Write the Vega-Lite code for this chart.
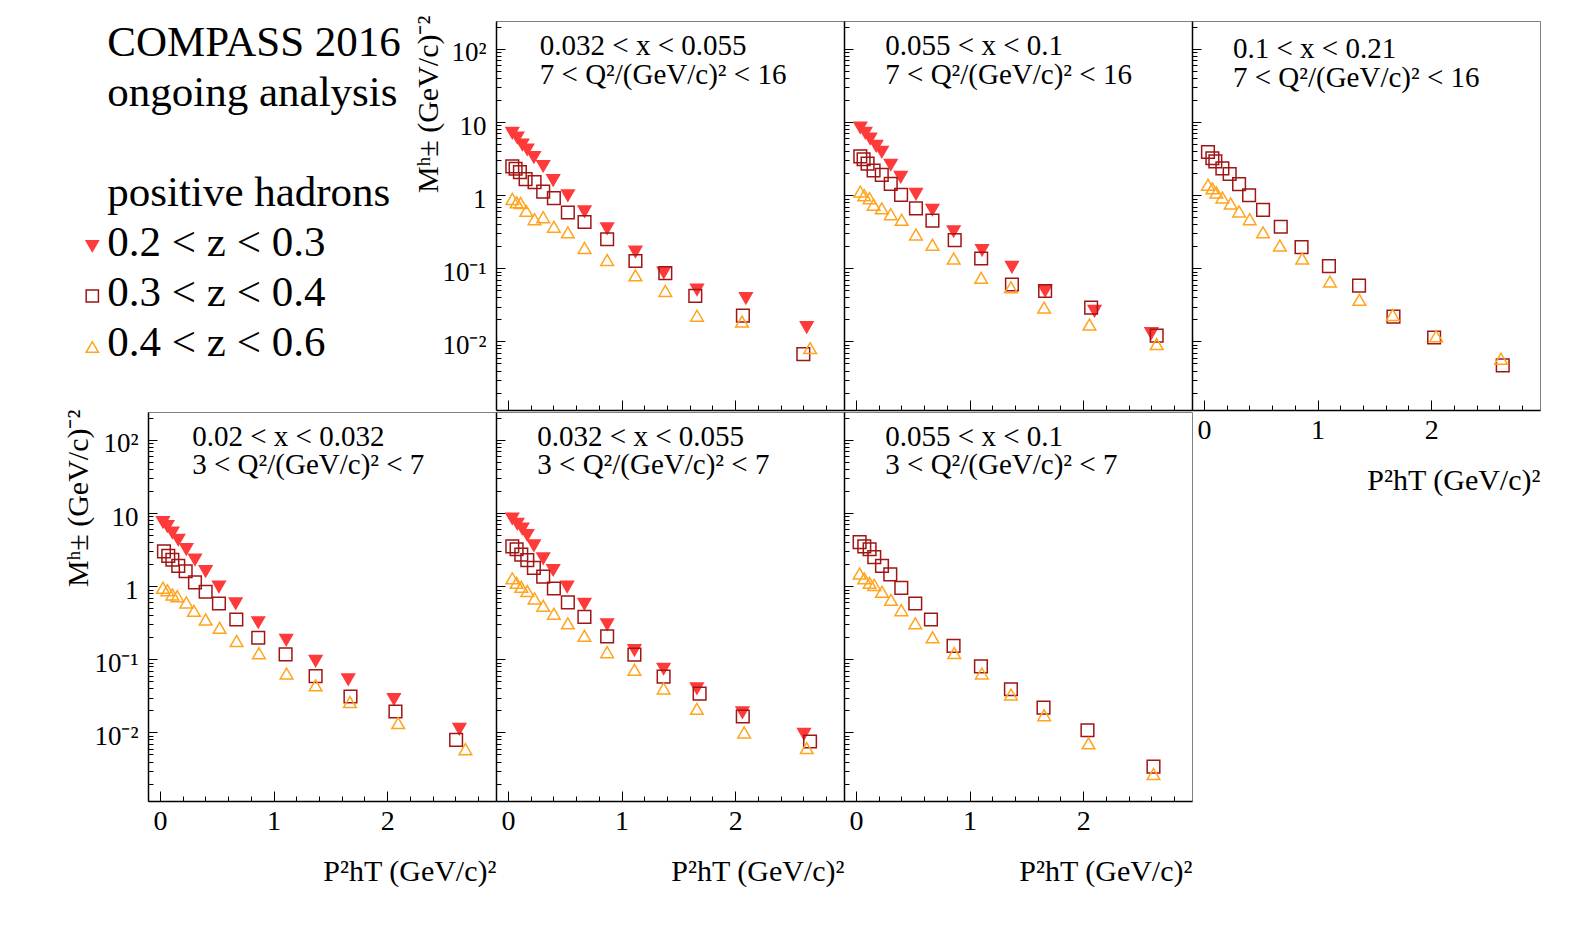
{
"$schema": "https://vega.github.io/schema/vega-lite/v6.json",
"background": "white",
"padding": {"left": 62, "top": 14, "right": 0, "bottom": 0},
"columns": 4,
"spacing": {"row": 2, "column": 0},
"bounds": "flush",
"datasets": {
"leg": [
{"c":1,"r":1,"t":"COMPASS 2016"},{"c":1,"r":2,"t":"ongoing analysis"},{"c":1,"r":4,"t":"positive hadrons"},
{"c":1,"r":5,"t":"0.2 < z < 0.3"},{"c":1,"r":6,"t":"0.3 < z < 0.4"},{"c":1,"r":7,"t":"0.4 < z < 0.6"}],
"legsym": [{"c":0,"r":4.8,"s":"z1"},{"c":0,"r":5.8,"s":"z2"},{"c":0,"r":6.82,"s":"z3"}],
"labs": [
{"p":"A","lx":0.28,"ly":81.5,"t":"0.032 < x < 0.055\n7 < Q²/(GeV/c)² < 16"},
{"p":"B","lx":0.258,"ly":81.5,"t":"0.055 < x < 0.1\n7 < Q²/(GeV/c)² < 16"},
{"p":"C","lx":0.255,"ly":75,"t":"0.1 < x < 0.21\n7 < Q²/(GeV/c)² < 16"},
{"p":"D","lx":0.284,"ly":82.8,"t":"0.02 < x < 0.032\n3 < Q²/(GeV/c)² < 7"},
{"p":"E","lx":0.258,"ly":82.8,"t":"0.032 < x < 0.055\n3 < Q²/(GeV/c)² < 7"},
{"p":"F","lx":0.258,"ly":82.8,"t":"0.055 < x < 0.1\n3 < Q²/(GeV/c)² < 7"}],
"pts": [
{"p":"A","s":"z1","pt2":0.038,"M":7.1},{"p":"A","s":"z1","pt2":0.082,"M":6.1},{"p":"A","s":"z1","pt2":0.126,"M":4.9},{"p":"A","s":"z1","pt2":0.170,"M":4.2},{"p":"A","s":"z1","pt2":0.228,"M":3.3},{"p":"A","s":"z1","pt2":0.310,"M":2.5},{"p":"A","s":"z1","pt2":0.398,"M":1.6},{"p":"A","s":"z1","pt2":0.527,"M":0.99},{"p":"A","s":"z1","pt2":0.674,"M":0.60},{"p":"A","s":"z1","pt2":0.873,"M":0.35},{"p":"A","s":"z1","pt2":1.122,"M":0.168},{"p":"A","s":"z1","pt2":1.371,"M":0.087},{"p":"A","s":"z1","pt2":1.664,"M":0.051},{"p":"A","s":"z1","pt2":2.094,"M":0.039},{"p":"A","s":"z1","pt2":2.63,"M":0.0156},
{"p":"A","s":"z2","pt2":0.038,"M":2.48},{"p":"A","s":"z2","pt2":0.067,"M":2.30},{"p":"A","s":"z2","pt2":0.105,"M":2.07},{"p":"A","s":"z2","pt2":0.155,"M":1.66},{"p":"A","s":"z2","pt2":0.234,"M":1.51},{"p":"A","s":"z2","pt2":0.310,"M":1.12},{"p":"A","s":"z2","pt2":0.404,"M":0.91},{"p":"A","s":"z2","pt2":0.527,"M":0.58},{"p":"A","s":"z2","pt2":0.674,"M":0.43},{"p":"A","s":"z2","pt2":0.873,"M":0.25},{"p":"A","s":"z2","pt2":1.122,"M":0.126},{"p":"A","s":"z2","pt2":1.385,"M":0.086},{"p":"A","s":"z2","pt2":1.649,"M":0.042},{"p":"A","s":"z2","pt2":2.068,"M":0.0225},{"p":"A","s":"z2","pt2":2.60,"M":0.0067},
{"p":"A","s":"z3","pt2":0.038,"M":0.89},{"p":"A","s":"z3","pt2":0.076,"M":0.80},{"p":"A","s":"z3","pt2":0.111,"M":0.78},{"p":"A","s":"z3","pt2":0.161,"M":0.61},{"p":"A","s":"z3","pt2":0.234,"M":0.47},{"p":"A","s":"z3","pt2":0.310,"M":0.50},{"p":"A","s":"z3","pt2":0.404,"M":0.37},{"p":"A","s":"z3","pt2":0.527,"M":0.31},{"p":"A","s":"z3","pt2":0.674,"M":0.19},{"p":"A","s":"z3","pt2":0.873,"M":0.13},{"p":"A","s":"z3","pt2":1.122,"M":0.080},{"p":"A","s":"z3","pt2":1.385,"M":0.049},{"p":"A","s":"z3","pt2":1.664,"M":0.0225},{"p":"A","s":"z3","pt2":2.06,"M":0.0187},{"p":"A","s":"z3","pt2":2.66,"M":0.0081},
{"p":"B","s":"z1","pt2":0.038,"M":8.4},{"p":"B","s":"z1","pt2":0.082,"M":7.1},{"p":"B","s":"z1","pt2":0.125,"M":5.9},{"p":"B","s":"z1","pt2":0.178,"M":4.7},{"p":"B","s":"z1","pt2":0.227,"M":3.9},{"p":"B","s":"z1","pt2":0.306,"M":2.6},{"p":"B","s":"z1","pt2":0.394,"M":1.77},{"p":"B","s":"z1","pt2":0.528,"M":1.04},{"p":"B","s":"z1","pt2":0.673,"M":0.63},{"p":"B","s":"z1","pt2":0.86,"M":0.32},{"p":"B","s":"z1","pt2":1.11,"M":0.177},{"p":"B","s":"z1","pt2":1.373,"M":0.104},{"p":"B","s":"z1","pt2":1.665,"M":0.049},{"p":"B","s":"z1","pt2":2.10,"M":0.026},{"p":"B","s":"z1","pt2":2.60,"M":0.0129},
{"p":"B","s":"z2","pt2":0.038,"M":3.4},{"p":"B","s":"z2","pt2":0.067,"M":3.1},{"p":"B","s":"z2","pt2":0.102,"M":2.7},{"p":"B","s":"z2","pt2":0.155,"M":2.18},{"p":"B","s":"z2","pt2":0.227,"M":1.90},{"p":"B","s":"z2","pt2":0.306,"M":1.43},{"p":"B","s":"z2","pt2":0.397,"M":1.01},{"p":"B","s":"z2","pt2":0.528,"M":0.66},{"p":"B","s":"z2","pt2":0.673,"M":0.45},{"p":"B","s":"z2","pt2":0.869,"M":0.243},{"p":"B","s":"z2","pt2":1.102,"M":0.136},{"p":"B","s":"z2","pt2":1.373,"M":0.060},{"p":"B","s":"z2","pt2":1.665,"M":0.049},{"p":"B","s":"z2","pt2":2.07,"M":0.029},{"p":"B","s":"z2","pt2":2.647,"M":0.012},
{"p":"B","s":"z3","pt2":0.038,"M":1.12},{"p":"B","s":"z3","pt2":0.073,"M":1.0},{"p":"B","s":"z3","pt2":0.12,"M":0.91},{"p":"B","s":"z3","pt2":0.155,"M":0.74},{"p":"B","s":"z3","pt2":0.227,"M":0.66},{"p":"B","s":"z3","pt2":0.306,"M":0.55},{"p":"B","s":"z3","pt2":0.402,"M":0.46},{"p":"B","s":"z3","pt2":0.528,"M":0.29},{"p":"B","s":"z3","pt2":0.673,"M":0.21},{"p":"B","s":"z3","pt2":0.86,"M":0.136},{"p":"B","s":"z3","pt2":1.102,"M":0.074},{"p":"B","s":"z3","pt2":1.364,"M":0.055},{"p":"B","s":"z3","pt2":1.656,"M":0.029},{"p":"B","s":"z3","pt2":2.055,"M":0.017},{"p":"B","s":"z3","pt2":2.647,"M":0.0092},
{"p":"C","s":"z2","pt2":0.035,"M":3.9},{"p":"C","s":"z2","pt2":0.074,"M":3.2},{"p":"C","s":"z2","pt2":0.10,"M":2.9},{"p":"C","s":"z2","pt2":0.162,"M":2.33},{"p":"C","s":"z2","pt2":0.226,"M":1.95},{"p":"C","s":"z2","pt2":0.309,"M":1.42},{"p":"C","s":"z2","pt2":0.397,"M":1.0},{"p":"C","s":"z2","pt2":0.52,"M":0.63},{"p":"C","s":"z2","pt2":0.676,"M":0.37},{"p":"C","s":"z2","pt2":0.859,"M":0.195},{"p":"C","s":"z2","pt2":1.10,"M":0.107},{"p":"C","s":"z2","pt2":1.365,"M":0.058},{"p":"C","s":"z2","pt2":1.668,"M":0.0218},{"p":"C","s":"z2","pt2":2.026,"M":0.0113},{"p":"C","s":"z2","pt2":2.63,"M":0.0047},
{"p":"C","s":"z3","pt2":0.035,"M":1.39},{"p":"C","s":"z3","pt2":0.074,"M":1.24},{"p":"C","s":"z3","pt2":0.109,"M":1.09},{"p":"C","s":"z3","pt2":0.162,"M":0.93},{"p":"C","s":"z3","pt2":0.235,"M":0.77},{"p":"C","s":"z3","pt2":0.309,"M":0.60},{"p":"C","s":"z3","pt2":0.403,"M":0.47},{"p":"C","s":"z3","pt2":0.52,"M":0.31},{"p":"C","s":"z3","pt2":0.668,"M":0.205},{"p":"C","s":"z3","pt2":0.865,"M":0.136},{"p":"C","s":"z3","pt2":1.109,"M":0.066},{"p":"C","s":"z3","pt2":1.368,"M":0.037},{"p":"C","s":"z3","pt2":1.662,"M":0.023},{"p":"C","s":"z3","pt2":2.044,"M":0.0118},{"p":"C","s":"z3","pt2":2.615,"M":0.0058},
{"p":"D","s":"z1","pt2":0.026,"M":7.5},{"p":"D","s":"z1","pt2":0.065,"M":6.6},{"p":"D","s":"z1","pt2":0.109,"M":5.4},{"p":"D","s":"z1","pt2":0.161,"M":4.3},{"p":"D","s":"z1","pt2":0.232,"M":3.2},{"p":"D","s":"z1","pt2":0.308,"M":2.3},{"p":"D","s":"z1","pt2":0.402,"M":1.6},{"p":"D","s":"z1","pt2":0.519,"M":0.98},{"p":"D","s":"z1","pt2":0.666,"M":0.58},{"p":"D","s":"z1","pt2":0.865,"M":0.32},{"p":"D","s":"z1","pt2":1.111,"M":0.184},{"p":"D","s":"z1","pt2":1.37,"M":0.095},{"p":"D","s":"z1","pt2":1.657,"M":0.053},{"p":"D","s":"z1","pt2":2.059,"M":0.0285},{"p":"D","s":"z1","pt2":2.636,"M":0.0111},
{"p":"D","s":"z2","pt2":0.035,"M":3.0},{"p":"D","s":"z2","pt2":0.073,"M":2.6},{"p":"D","s":"z2","pt2":0.109,"M":2.3},{"p":"D","s":"z2","pt2":0.161,"M":1.9},{"p":"D","s":"z2","pt2":0.226,"M":1.6},{"p":"D","s":"z2","pt2":0.308,"M":1.13},{"p":"D","s":"z2","pt2":0.402,"M":0.84},{"p":"D","s":"z2","pt2":0.519,"M":0.58},{"p":"D","s":"z2","pt2":0.672,"M":0.35},{"p":"D","s":"z2","pt2":0.865,"M":0.197},{"p":"D","s":"z2","pt2":1.106,"M":0.117},{"p":"D","s":"z2","pt2":1.37,"M":0.059},{"p":"D","s":"z2","pt2":1.677,"M":0.031},{"p":"D","s":"z2","pt2":2.073,"M":0.0193},{"p":"D","s":"z2","pt2":2.607,"M":0.0079},
{"p":"D","s":"z3","pt2":0.026,"M":0.95},{"p":"D","s":"z3","pt2":0.065,"M":0.88},{"p":"D","s":"z3","pt2":0.109,"M":0.77},{"p":"D","s":"z3","pt2":0.152,"M":0.73},{"p":"D","s":"z3","pt2":0.232,"M":0.60},{"p":"D","s":"z3","pt2":0.299,"M":0.46},{"p":"D","s":"z3","pt2":0.402,"M":0.35},{"p":"D","s":"z3","pt2":0.525,"M":0.27},{"p":"D","s":"z3","pt2":0.674,"M":0.178},{"p":"D","s":"z3","pt2":0.871,"M":0.121},{"p":"D","s":"z3","pt2":1.114,"M":0.064},{"p":"D","s":"z3","pt2":1.37,"M":0.044},{"p":"D","s":"z3","pt2":1.672,"M":0.026},{"p":"D","s":"z3","pt2":2.097,"M":0.0134},{"p":"D","s":"z3","pt2":2.689,"M":0.0059},
{"p":"E","s":"z1","pt2":0.038,"M":8.4},{"p":"E","s":"z1","pt2":0.082,"M":7.1},{"p":"E","s":"z1","pt2":0.126,"M":6.1},{"p":"E","s":"z1","pt2":0.17,"M":5.0},{"p":"E","s":"z1","pt2":0.228,"M":3.6},{"p":"E","s":"z1","pt2":0.31,"M":2.4},{"p":"E","s":"z1","pt2":0.398,"M":1.66},{"p":"E","s":"z1","pt2":0.521,"M":0.98},{"p":"E","s":"z1","pt2":0.673,"M":0.57},{"p":"E","s":"z1","pt2":0.873,"M":0.30},{"p":"E","s":"z1","pt2":1.113,"M":0.133},{"p":"E","s":"z1","pt2":1.37,"M":0.074},{"p":"E","s":"z1","pt2":1.663,"M":0.040},{"p":"E","s":"z1","pt2":2.064,"M":0.0187},{"p":"E","s":"z1","pt2":2.606,"M":0.0095},
{"p":"E","s":"z2","pt2":0.038,"M":3.5},{"p":"E","s":"z2","pt2":0.076,"M":3.2},{"p":"E","s":"z2","pt2":0.117,"M":2.7},{"p":"E","s":"z2","pt2":0.17,"M":2.27},{"p":"E","s":"z2","pt2":0.228,"M":1.78},{"p":"E","s":"z2","pt2":0.31,"M":1.35},{"p":"E","s":"z2","pt2":0.404,"M":0.93},{"p":"E","s":"z2","pt2":0.527,"M":0.60},{"p":"E","s":"z2","pt2":0.673,"M":0.38},{"p":"E","s":"z2","pt2":0.873,"M":0.206},{"p":"E","s":"z2","pt2":1.113,"M":0.116},{"p":"E","s":"z2","pt2":1.37,"M":0.058},{"p":"E","s":"z2","pt2":1.687,"M":0.034},{"p":"E","s":"z2","pt2":2.067,"M":0.0165},{"p":"E","s":"z2","pt2":2.659,"M":0.0075},
{"p":"E","s":"z3","pt2":0.038,"M":1.28},{"p":"E","s":"z3","pt2":0.076,"M":1.11},{"p":"E","s":"z3","pt2":0.117,"M":0.98},{"p":"E","s":"z3","pt2":0.17,"M":0.86},{"p":"E","s":"z3","pt2":0.234,"M":0.68},{"p":"E","s":"z3","pt2":0.31,"M":0.54},{"p":"E","s":"z3","pt2":0.404,"M":0.42},{"p":"E","s":"z3","pt2":0.527,"M":0.31},{"p":"E","s":"z3","pt2":0.673,"M":0.21},{"p":"E","s":"z3","pt2":0.873,"M":0.125},{"p":"E","s":"z3","pt2":1.113,"M":0.072},{"p":"E","s":"z3","pt2":1.37,"M":0.040},{"p":"E","s":"z3","pt2":1.663,"M":0.021},{"p":"E","s":"z3","pt2":2.079,"M":0.0100},{"p":"E","s":"z3","pt2":2.63,"M":0.0061},
{"p":"F","s":"z2","pt2":0.032,"M":4.0},{"p":"F","s":"z2","pt2":0.073,"M":3.5},{"p":"F","s":"z2","pt2":0.12,"M":3.2},{"p":"F","s":"z2","pt2":0.161,"M":2.5},{"p":"F","s":"z2","pt2":0.229,"M":1.9},{"p":"F","s":"z2","pt2":0.302,"M":1.45},{"p":"F","s":"z2","pt2":0.399,"M":0.95},{"p":"F","s":"z2","pt2":0.522,"M":0.58},{"p":"F","s":"z2","pt2":0.66,"M":0.35},{"p":"F","s":"z2","pt2":0.859,"M":0.153},{"p":"F","s":"z2","pt2":1.10,"M":0.080},{"p":"F","s":"z2","pt2":1.364,"M":0.039},{"p":"F","s":"z2","pt2":1.651,"M":0.0218},{"p":"F","s":"z2","pt2":2.038,"M":0.0107},{"p":"F","s":"z2","pt2":2.619,"M":0.0034},
{"p":"F","s":"z3","pt2":0.032,"M":1.49},{"p":"F","s":"z3","pt2":0.073,"M":1.28},{"p":"F","s":"z3","pt2":0.12,"M":1.11},{"p":"F","s":"z3","pt2":0.161,"M":1.04},{"p":"F","s":"z3","pt2":0.229,"M":0.84},{"p":"F","s":"z3","pt2":0.308,"M":0.65},{"p":"F","s":"z3","pt2":0.399,"M":0.47},{"p":"F","s":"z3","pt2":0.522,"M":0.31},{"p":"F","s":"z3","pt2":0.674,"M":0.20},{"p":"F","s":"z3","pt2":0.865,"M":0.122},{"p":"F","s":"z3","pt2":1.108,"M":0.064},{"p":"F","s":"z3","pt2":1.364,"M":0.033},{"p":"F","s":"z3","pt2":1.657,"M":0.0172},{"p":"F","s":"z3","pt2":2.047,"M":0.0071},{"p":"F","s":"z3","pt2":2.619,"M":0.0027}
]
},
"concat": [
{"width":348,"height":389,"view":{"stroke":null},
 "layer":[
  {"data":{"name":"leg"},"mark":{"type":"text","align":"left","baseline":"alphabetic","fontSize":43,"font":"Liberation Serif","color":"black"},
   "encoding":{"x":{"field":"c","type":"quantitative","scale":{"domain":[3.713,26.913],"nice":false,"zero":false},"axis":null},
     "y":{"field":"r","type":"quantitative","scale":{"domain":[0.3,8.08],"reverse":true,"nice":false,"zero":false},"axis":null},
     "text":{"field":"t","type":"nominal"}}},
  {"data":{"name":"legsym"},"mark":{"type":"point","size":150,"strokeWidth":1.5,"opacity":1},
   "encoding":{"x":{"field":"c","type":"quantitative"},"y":{"field":"r","type":"quantitative"},
     "shape":{"field":"s","type":"nominal","scale":{"domain":["z1","z2","z3"],"range":["triangle-down","square","triangle-up"]},"legend":null},
     "fill":{"field":"s","type":"nominal","scale":{"domain":["z1","z2","z3"],"range":["#ff3a3a","transparent","transparent"]},"legend":null},
     "stroke":{"field":"s","type":"nominal","scale":{"domain":["z1","z2","z3"],"range":["#ff3a3a","#a01515","#ffa41c"]},"legend":null}}}
 ]},
{"width":348,"height":389,
 "layer":[
  {"data":{"name":"pts"},"transform":[{"filter":"datum.p == 'A'"}],"mark":{"type":"point","size":160,"strokeWidth":1.5,"opacity":1},
   "encoding":{
    "x":{"field":"pt2","type":"quantitative","scale":{"domain":[-0.1055,2.958],"nice":false,"zero":false},
      "axis":{"values":[0,0.2,0.4,0.6,0.8,1,1.2,1.4,1.6,1.8,2,2.2,2.4,2.6,2.8],"tickCount":100,"labels":false,"title":null,"labelOverlap":false,
        "tickSize":{"condition":{"test":"datum.value == 0 || datum.value == 1 || datum.value == 2","value":-10},"value":-5}}},
    "y":{"field":"M","type":"quantitative","scale":{"type":"log","domain":[0.001153,241.5],"nice":false},
      "axis":{"values":[0.002,0.003,0.004,0.005,0.006,0.007,0.008,0.009,0.01,0.02,0.03,0.04,0.05,0.06,0.07,0.08,0.09,0.1,0.2,0.3,0.4,0.5,0.6,0.7,0.8,0.9,1,2,3,4,5,6,7,8,9,10,20,30,40,50,60,70,80,90,100,200],"tickCount":100,
        "labelExpr":"datum.value == 100 ? '10²' : datum.value == 10 ? '10' : datum.value == 1 ? '1' : datum.value == 0.1 ? '10⁻¹' : datum.value == 0.01 ? '10⁻²' : ''",
        "tickSize":{"condition":{"test":"datum.value == 0.01 || datum.value == 0.1 || datum.value == 1 || datum.value == 10 || datum.value == 100","value":-9},"value":-5},
        "labelPadding":19,"labelBaseline":"middle","labelOffset":4,"labelOverlap":false,
        "title":"Mʰ± (GeV/c)⁻²","titleFontSize":30,"titleAnchor":"end","titleX":-53,"titleY":-6,"titleBaseline":"bottom","titleAngle":270}},
    "shape":{"field":"s","type":"nominal","scale":{"domain":["z1","z2","z3"],"range":["triangle-down","square","triangle-up"]},"legend":null},
    "fill":{"field":"s","type":"nominal","scale":{"domain":["z1","z2","z3"],"range":["#ff3a3a","transparent","transparent"]},"legend":null},
    "stroke":{"field":"s","type":"nominal","scale":{"domain":["z1","z2","z3"],"range":["#ff3a3a","#a01515","#ffa41c"]},"legend":null}}},
  {"data":{"name":"labs"},"transform":[{"filter":"datum.p == 'A'"}],"mark":{"type":"text","align":"left","baseline":"alphabetic","fontSize":29,"lineHeight":28.5,"lineBreak":"\n","font":"Liberation Serif","color":"black"},
   "encoding":{"x":{"field":"lx","type":"quantitative"},"y":{"field":"ly","type":"quantitative"},"text":{"field":"t","type":"nominal"}}}
 ]},
{"width":348,"height":389,
 "layer":[
  {"data":{"name":"pts"},"transform":[{"filter":"datum.p == 'B'"}],"mark":{"type":"point","size":160,"strokeWidth":1.5,"opacity":1},
   "encoding":{
    "x":{"field":"pt2","type":"quantitative","scale":{"domain":[-0.1055,2.958],"nice":false,"zero":false},
      "axis":{"values":[0,0.2,0.4,0.6,0.8,1,1.2,1.4,1.6,1.8,2,2.2,2.4,2.6,2.8],"tickCount":100,"labels":false,"title":null,"labelOverlap":false,
        "tickSize":{"condition":{"test":"datum.value == 0 || datum.value == 1 || datum.value == 2","value":-10},"value":-5}}},
    "y":{"field":"M","type":"quantitative","scale":{"type":"log","domain":[0.001153,241.5],"nice":false},
      "axis":{"values":[0.002,0.003,0.004,0.005,0.006,0.007,0.008,0.009,0.01,0.02,0.03,0.04,0.05,0.06,0.07,0.08,0.09,0.1,0.2,0.3,0.4,0.5,0.6,0.7,0.8,0.9,1,2,3,4,5,6,7,8,9,10,20,30,40,50,60,70,80,90,100,200],"tickCount":100,
        "labels":false,"title":null,
        "tickSize":{"condition":{"test":"datum.value == 0.01 || datum.value == 0.1 || datum.value == 1 || datum.value == 10 || datum.value == 100","value":-9},"value":-5}}},
    "shape":{"field":"s","type":"nominal","scale":{"domain":["z1","z2","z3"],"range":["triangle-down","square","triangle-up"]},"legend":null},
    "fill":{"field":"s","type":"nominal","scale":{"domain":["z1","z2","z3"],"range":["#ff3a3a","transparent","transparent"]},"legend":null},
    "stroke":{"field":"s","type":"nominal","scale":{"domain":["z1","z2","z3"],"range":["#ff3a3a","#a01515","#ffa41c"]},"legend":null}}},
  {"data":{"name":"labs"},"transform":[{"filter":"datum.p == 'B'"}],"mark":{"type":"text","align":"left","baseline":"alphabetic","fontSize":29,"lineHeight":28.5,"lineBreak":"\n","font":"Liberation Serif","color":"black"},
   "encoding":{"x":{"field":"lx","type":"quantitative"},"y":{"field":"ly","type":"quantitative"},"text":{"field":"t","type":"nominal"}}}
 ]},
{"width":348,"height":389,
 "layer":[
  {"data":{"name":"pts"},"transform":[{"filter":"datum.p == 'C'"}],"mark":{"type":"point","size":160,"strokeWidth":1.5,"opacity":1},
   "encoding":{
    "x":{"field":"pt2","type":"quantitative","scale":{"domain":[-0.1055,2.958],"nice":false,"zero":false},
      "axis":{"values":[0,0.2,0.4,0.6,0.8,1,1.2,1.4,1.6,1.8,2,2.2,2.4,2.6,2.8],"tickCount":100,"labelOverlap":false,"labelFontSize":28,
        "labelExpr":"datum.value == 0 ? '0' : datum.value == 1 ? '1' : datum.value == 2 ? '2' : ''",
        "tickSize":{"condition":{"test":"datum.value == 0 || datum.value == 1 || datum.value == 2","value":-10},"value":-5},
        "labelPadding":16,"title":"P²hT (GeV/c)²","titleFontSize":30,"titleAnchor":"end","titleBaseline":"alphabetic","titleY":79}},
    "y":{"field":"M","type":"quantitative","scale":{"type":"log","domain":[0.001153,241.5],"nice":false},
      "axis":{"values":[0.002,0.003,0.004,0.005,0.006,0.007,0.008,0.009,0.01,0.02,0.03,0.04,0.05,0.06,0.07,0.08,0.09,0.1,0.2,0.3,0.4,0.5,0.6,0.7,0.8,0.9,1,2,3,4,5,6,7,8,9,10,20,30,40,50,60,70,80,90,100,200],"tickCount":100,
        "labels":false,"title":null,
        "tickSize":{"condition":{"test":"datum.value == 0.01 || datum.value == 0.1 || datum.value == 1 || datum.value == 10 || datum.value == 100","value":-9},"value":-5}}},
    "shape":{"field":"s","type":"nominal","scale":{"domain":["z1","z2","z3"],"range":["triangle-down","square","triangle-up"]},"legend":null},
    "fill":{"field":"s","type":"nominal","scale":{"domain":["z1","z2","z3"],"range":["#ff3a3a","transparent","transparent"]},"legend":null},
    "stroke":{"field":"s","type":"nominal","scale":{"domain":["z1","z2","z3"],"range":["#ff3a3a","#a01515","#ffa41c"]},"legend":null}}},
  {"data":{"name":"labs"},"transform":[{"filter":"datum.p == 'C'"}],"mark":{"type":"text","align":"left","baseline":"alphabetic","fontSize":29,"lineHeight":28.5,"lineBreak":"\n","font":"Liberation Serif","color":"black"},
   "encoding":{"x":{"field":"lx","type":"quantitative"},"y":{"field":"ly","type":"quantitative"},"text":{"field":"t","type":"nominal"}}}
 ]},
{"width":348,"height":389,
 "layer":[
  {"data":{"name":"pts"},"transform":[{"filter":"datum.p == 'D'"}],"mark":{"type":"point","size":160,"strokeWidth":1.5,"opacity":1},
   "encoding":{
    "x":{"field":"pt2","type":"quantitative","scale":{"domain":[-0.1055,2.958],"nice":false,"zero":false},
      "axis":{"values":[0,0.2,0.4,0.6,0.8,1,1.2,1.4,1.6,1.8,2,2.2,2.4,2.6,2.8],"tickCount":100,"labelOverlap":false,"labelFontSize":28,
        "labelExpr":"datum.value == 0 ? '0' : datum.value == 1 ? '1' : datum.value == 2 ? '2' : ''",
        "tickSize":{"condition":{"test":"datum.value == 0 || datum.value == 1 || datum.value == 2","value":-10},"value":-5},
        "labelPadding":16,"title":"P²hT (GeV/c)²","titleFontSize":30,"titleAnchor":"end","titleBaseline":"alphabetic","titleY":79}},
    "y":{"field":"M","type":"quantitative","scale":{"type":"log","domain":[0.001153,241.5],"nice":false},
      "axis":{"values":[0.002,0.003,0.004,0.005,0.006,0.007,0.008,0.009,0.01,0.02,0.03,0.04,0.05,0.06,0.07,0.08,0.09,0.1,0.2,0.3,0.4,0.5,0.6,0.7,0.8,0.9,1,2,3,4,5,6,7,8,9,10,20,30,40,50,60,70,80,90,100,200],"tickCount":100,
        "labelExpr":"datum.value == 100 ? '10²' : datum.value == 10 ? '10' : datum.value == 1 ? '1' : datum.value == 0.1 ? '10⁻¹' : datum.value == 0.01 ? '10⁻²' : ''",
        "tickSize":{"condition":{"test":"datum.value == 0.01 || datum.value == 0.1 || datum.value == 1 || datum.value == 10 || datum.value == 100","value":-9},"value":-5},
        "labelPadding":19,"labelBaseline":"middle","labelOffset":4,"labelOverlap":false,
        "title":"Mʰ± (GeV/c)⁻²","titleFontSize":30,"titleAnchor":"end","titleX":-55,"titleY":-3,"titleBaseline":"bottom","titleAngle":270}},
    "shape":{"field":"s","type":"nominal","scale":{"domain":["z1","z2","z3"],"range":["triangle-down","square","triangle-up"]},"legend":null},
    "fill":{"field":"s","type":"nominal","scale":{"domain":["z1","z2","z3"],"range":["#ff3a3a","transparent","transparent"]},"legend":null},
    "stroke":{"field":"s","type":"nominal","scale":{"domain":["z1","z2","z3"],"range":["#ff3a3a","#a01515","#ffa41c"]},"legend":null}}},
  {"data":{"name":"labs"},"transform":[{"filter":"datum.p == 'D'"}],"mark":{"type":"text","align":"left","baseline":"alphabetic","fontSize":29,"lineHeight":28.5,"lineBreak":"\n","font":"Liberation Serif","color":"black"},
   "encoding":{"x":{"field":"lx","type":"quantitative"},"y":{"field":"ly","type":"quantitative"},"text":{"field":"t","type":"nominal"}}}
 ]},
{"width":348,"height":389,
 "layer":[
  {"data":{"name":"pts"},"transform":[{"filter":"datum.p == 'E'"}],"mark":{"type":"point","size":160,"strokeWidth":1.5,"opacity":1},
   "encoding":{
    "x":{"field":"pt2","type":"quantitative","scale":{"domain":[-0.1055,2.958],"nice":false,"zero":false},
      "axis":{"values":[0,0.2,0.4,0.6,0.8,1,1.2,1.4,1.6,1.8,2,2.2,2.4,2.6,2.8],"tickCount":100,"labelOverlap":false,"labelFontSize":28,
        "labelExpr":"datum.value == 0 ? '0' : datum.value == 1 ? '1' : datum.value == 2 ? '2' : ''",
        "tickSize":{"condition":{"test":"datum.value == 0 || datum.value == 1 || datum.value == 2","value":-10},"value":-5},
        "labelPadding":16,"title":"P²hT (GeV/c)²","titleFontSize":30,"titleAnchor":"end","titleBaseline":"alphabetic","titleY":79}},
    "y":{"field":"M","type":"quantitative","scale":{"type":"log","domain":[0.001153,241.5],"nice":false},
      "axis":{"values":[0.002,0.003,0.004,0.005,0.006,0.007,0.008,0.009,0.01,0.02,0.03,0.04,0.05,0.06,0.07,0.08,0.09,0.1,0.2,0.3,0.4,0.5,0.6,0.7,0.8,0.9,1,2,3,4,5,6,7,8,9,10,20,30,40,50,60,70,80,90,100,200],"tickCount":100,
        "labels":false,"title":null,
        "tickSize":{"condition":{"test":"datum.value == 0.01 || datum.value == 0.1 || datum.value == 1 || datum.value == 10 || datum.value == 100","value":-9},"value":-5}}},
    "shape":{"field":"s","type":"nominal","scale":{"domain":["z1","z2","z3"],"range":["triangle-down","square","triangle-up"]},"legend":null},
    "fill":{"field":"s","type":"nominal","scale":{"domain":["z1","z2","z3"],"range":["#ff3a3a","transparent","transparent"]},"legend":null},
    "stroke":{"field":"s","type":"nominal","scale":{"domain":["z1","z2","z3"],"range":["#ff3a3a","#a01515","#ffa41c"]},"legend":null}}},
  {"data":{"name":"labs"},"transform":[{"filter":"datum.p == 'E'"}],"mark":{"type":"text","align":"left","baseline":"alphabetic","fontSize":29,"lineHeight":28.5,"lineBreak":"\n","font":"Liberation Serif","color":"black"},
   "encoding":{"x":{"field":"lx","type":"quantitative"},"y":{"field":"ly","type":"quantitative"},"text":{"field":"t","type":"nominal"}}}
 ]},
{"width":348,"height":389,
 "layer":[
  {"data":{"name":"pts"},"transform":[{"filter":"datum.p == 'F'"}],"mark":{"type":"point","size":160,"strokeWidth":1.5,"opacity":1},
   "encoding":{
    "x":{"field":"pt2","type":"quantitative","scale":{"domain":[-0.1055,2.958],"nice":false,"zero":false},
      "axis":{"values":[0,0.2,0.4,0.6,0.8,1,1.2,1.4,1.6,1.8,2,2.2,2.4,2.6,2.8],"tickCount":100,"labelOverlap":false,"labelFontSize":28,
        "labelExpr":"datum.value == 0 ? '0' : datum.value == 1 ? '1' : datum.value == 2 ? '2' : ''",
        "tickSize":{"condition":{"test":"datum.value == 0 || datum.value == 1 || datum.value == 2","value":-10},"value":-5},
        "labelPadding":16,"title":"P²hT (GeV/c)²","titleFontSize":30,"titleAnchor":"end","titleBaseline":"alphabetic","titleY":79}},
    "y":{"field":"M","type":"quantitative","scale":{"type":"log","domain":[0.001153,241.5],"nice":false},
      "axis":{"values":[0.002,0.003,0.004,0.005,0.006,0.007,0.008,0.009,0.01,0.02,0.03,0.04,0.05,0.06,0.07,0.08,0.09,0.1,0.2,0.3,0.4,0.5,0.6,0.7,0.8,0.9,1,2,3,4,5,6,7,8,9,10,20,30,40,50,60,70,80,90,100,200],"tickCount":100,
        "labels":false,"title":null,
        "tickSize":{"condition":{"test":"datum.value == 0.01 || datum.value == 0.1 || datum.value == 1 || datum.value == 10 || datum.value == 100","value":-9},"value":-5}}},
    "shape":{"field":"s","type":"nominal","scale":{"domain":["z1","z2","z3"],"range":["triangle-down","square","triangle-up"]},"legend":null},
    "fill":{"field":"s","type":"nominal","scale":{"domain":["z1","z2","z3"],"range":["#ff3a3a","transparent","transparent"]},"legend":null},
    "stroke":{"field":"s","type":"nominal","scale":{"domain":["z1","z2","z3"],"range":["#ff3a3a","#a01515","#ffa41c"]},"legend":null}}},
  {"data":{"name":"labs"},"transform":[{"filter":"datum.p == 'F'"}],"mark":{"type":"text","align":"left","baseline":"alphabetic","fontSize":29,"lineHeight":28.5,"lineBreak":"\n","font":"Liberation Serif","color":"black"},
   "encoding":{"x":{"field":"lx","type":"quantitative"},"y":{"field":"ly","type":"quantitative"},"text":{"field":"t","type":"nominal"}}}
 ]}
],
"config": {
 "font": "Liberation Serif",
 "view": {"stroke": "#808080", "strokeWidth": 1},
 "axis": {"grid": false, "domainColor": "#000", "domainWidth": 1.5, "tickColor": "#000", "tickWidth": 1,
   "labelFont": "Liberation Serif", "labelFontSize": 27, "labelColor": "#000",
   "titleFont": "Liberation Serif", "titleFontSize": 28, "titleFontWeight": "normal", "titleColor": "#000",
   "labelFlush": false, "labelOverlap": false}
}
}
